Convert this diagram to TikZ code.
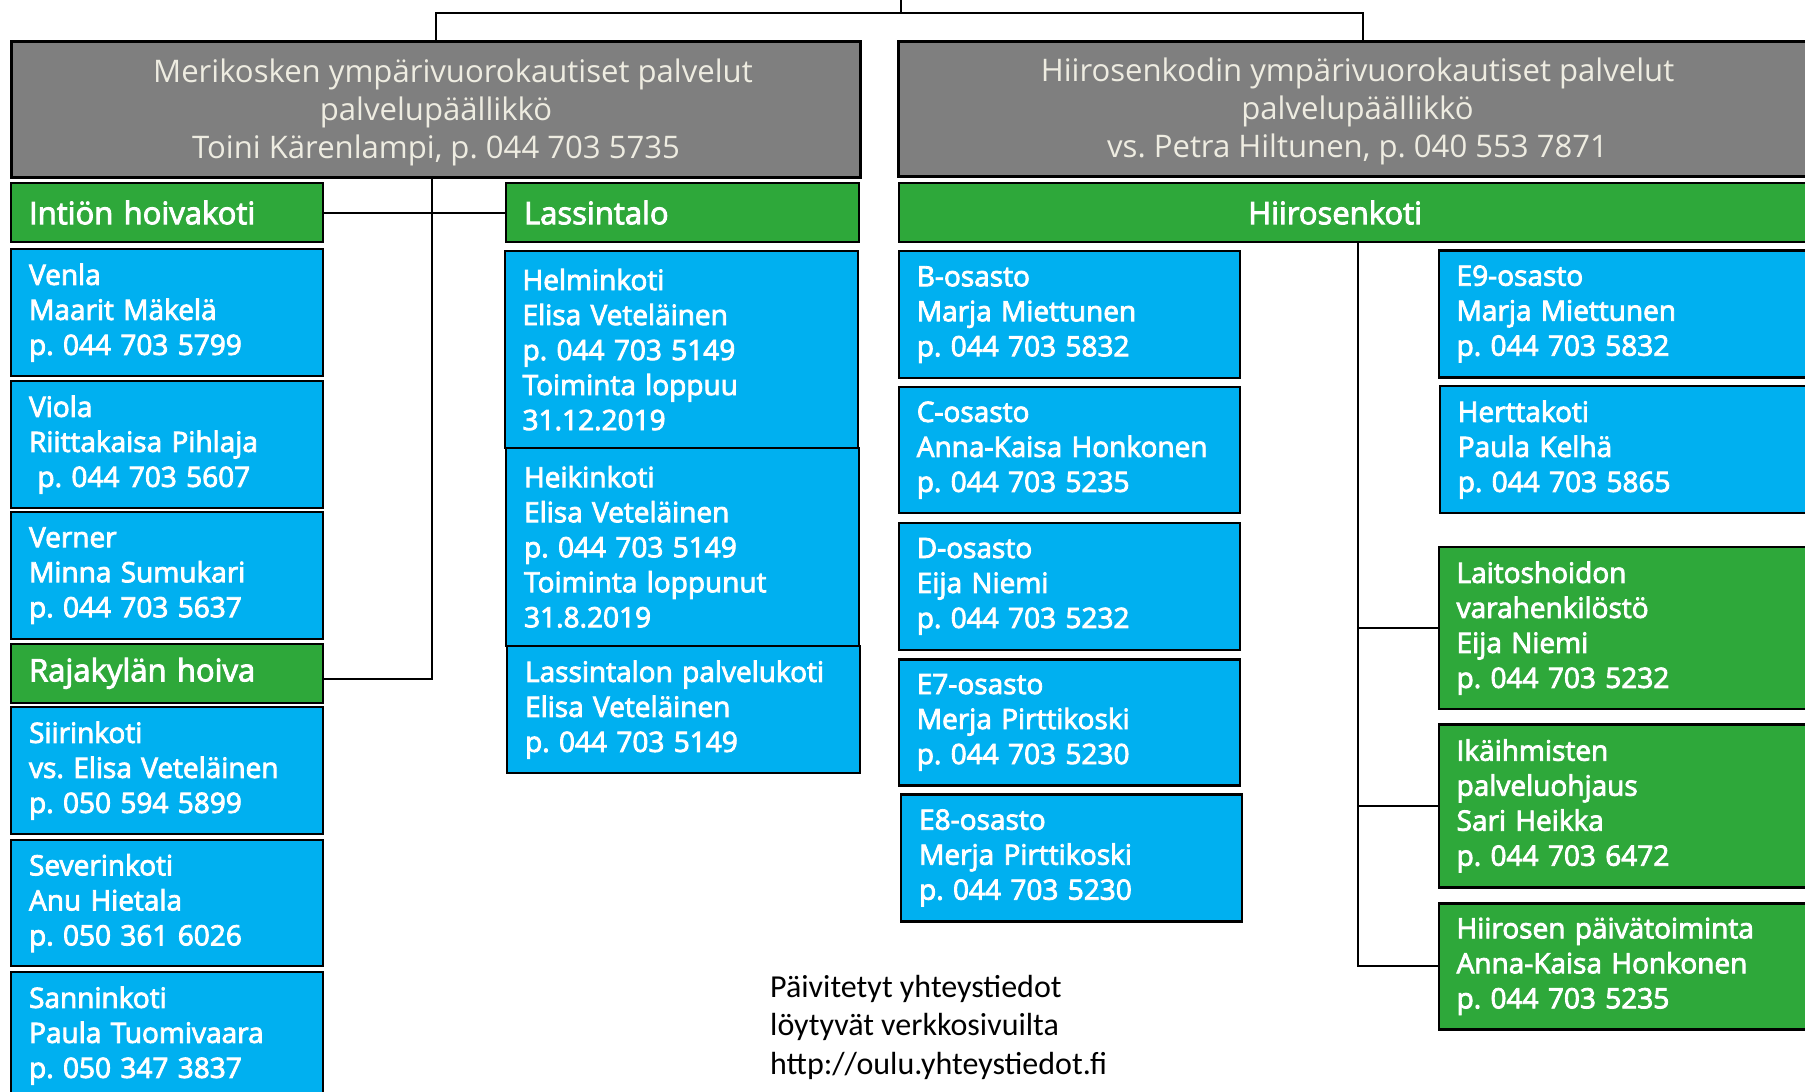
\documentclass[tikz,border=0pt]{standalone}
\usepackage{fontspec}
\setmainfont{Open Sans}
\newfontfamily\sbf{Open Sans}[FakeBold=3]
\newfontfamily\calib{Carlito}
\definecolor{gboxc}{HTML}{7F7F7F}
\definecolor{cyanc}{HTML}{00B0F0}
\definecolor{greenc}{HTML}{2EA83A}
\definecolor{creamc}{HTML}{EEECE1}
\frenchspacing
\begin{document}
\begin{tikzpicture}[x=1pt,y=-1pt,
  hdr/.style={draw=black, line width=3pt, fill=gboxc, text=creamc, align=center,
    font=\frenchspacing\fontsize{31.1}{38}\selectfont, inner sep=0pt, anchor=north west},
  bx/.style={draw=black, line width=2.2pt, text=white, align=left,
    font=\frenchspacing\sbf\fontsize{28}{35}\selectfont, inner xsep=18pt, inner ysep=0pt, anchor=north west},
  bluebox/.style={bx, fill=cyanc},
  greenbox/.style={bx, fill=greenc},
  unitbox/.style={greenbox, minimum height=59pt, font=\frenchspacing\sbf\fontsize{31}{35}\selectfont},
  lc/.style={minimum width=311.5pt, text width=275.5pt},
  mc/.style={minimum width=353pt, text width=317pt},
  hc/.style={minimum width=341pt, text width=305pt},
  rc/.style={minimum width=380pt, text width=344pt},
  conn/.style={draw=black, line width=2pt}]
\useasboundingbox[fill=white] (0,0) rectangle (1805,1092);

% headers
\node[hdr, minimum width=849pt, minimum height=136pt] (hdrL) at (10,40)
  {\rule{0pt}{29pt}\hspace*{34pt}Merikosken ympärivuorokautiset palvelut\\palvelupäällikkö\\Toini Kärenlampi, p. 044 703 5735};
\node[hdr, minimum width=919pt, minimum height=135pt] (hdrR) at (896.5,40)
  {\rule{0pt}{29pt}Hiirosenkodin ympärivuorokautiset palvelut\\palvelupäällikkö\\vs. Petra Hiltunen, p. 040 553 7871};

% green unit boxes
\node[unitbox, lc] (intion) at (10,182) {Intiön hoivakoti};
\node[unitbox, mc] (lassi) at (505,182) {Lassintalo};
\node[unitbox, minimum width=917pt, text width=881pt, align=center] (hiiro) at (898,182)
  {\hspace*{-45pt}Hiirosenkoti};

% left column
\node[bluebox, lc, minimum height=127pt] (venla) at (10,248) {Venla\\Maarit Mäkelä\\p. 044 703 5799};
\node[bluebox, lc, minimum height=127pt] (viola) at (10,380) {Viola\\Riittakaisa Pihlaja\\\hspace*{0.3em}p. 044 703 5607};
\node[bluebox, lc, minimum height=127pt] (verner) at (10,511) {Verner\\Minna Sumukari\\p. 044 703 5637};
\node[unitbox, lc] (raja) at (10,642.7) {Rajakylän hoiva};
\node[bluebox, lc, minimum height=127pt] (siiri) at (10,706) {Siirinkoti\\vs. Elisa Veteläinen\\p. 050 594 5899};
\node[bluebox, lc, minimum height=126pt] (severin) at (10,839) {Severinkoti\\Anu Hietala\\p. 050 361 6026};
\node[bluebox, lc, minimum height=127pt] (sannin) at (10,971) {Sanninkoti\\Paula Tuomivaara\\p. 050 347 3837};

% Lassintalo column
\node[bluebox, mc, minimum height=197pt] (helmi) at (503.5,250)
  {Helminkoti\\Elisa Veteläinen\\p. 044 703 5149\\Toiminta loppuu\\31.12.2019};
\node[bluebox, mc, minimum height=198pt] (heikki) at (505,446.7)
  {Heikinkoti\\Elisa Veteläinen\\p. 044 703 5149\\Toiminta loppunut\\31.8.2019};
\node[bluebox, mc, minimum height=127pt] (lpk) at (506,645)
  {Lassintalon palvelukoti\\Elisa Veteläinen\\p. 044 703 5149};

% Hiirosenkoti left column
\node[bluebox, hc, minimum height=127pt] (bos) at (897.7,250) {B-osasto\\Marja Miettunen\\p. 044 703 5832};
\node[bluebox, hc, minimum height=126pt] (cos) at (897.7,386) {C-osasto\\Anna-Kaisa Honkonen\\p. 044 703 5235};
\node[bluebox, hc, minimum height=127pt] (dos) at (897.7,521.7) {D-osasto\\Eija Niemi\\p. 044 703 5232};
\node[bluebox, hc, minimum height=126pt] (e7) at (897.7,658.3) {E7-osasto\\Merja Pirttikoski\\p. 044 703 5230};
\node[bluebox, hc, minimum height=127pt] (e8) at (900,793.3) {E8-osasto\\Merja Pirttikoski\\p. 044 703 5230};

% Hiirosenkoti right column
\node[bluebox, rc, minimum height=127pt] (e9) at (1437.5,249.3) {E9-osasto\\Marja Miettunen\\p. 044 703 5832};
\node[bluebox, rc, minimum height=127pt] (hertta) at (1438.7,385) {Herttakoti\\Paula Kelhä\\p. 044 703 5865};
\node[greenbox, rc, minimum height=162pt] (laitos) at (1437.5,546)
  {Laitoshoidon\\varahenkilöstö\\Eija Niemi\\p. 044 703 5232};
\node[greenbox, rc, minimum height=163pt] (ika) at (1437.5,723.3)
  {Ikäihmisten\\palveluohjaus\\Sari Heikka\\p. 044 703 6472};
\node[greenbox, rc, minimum height=126pt] (paiva) at (1437.5,902.3)
  {Hiirosen päivätoiminta\\Anna-Kaisa Honkonen\\p. 044 703 5235};

% footnote
\node[font=\frenchspacing\calib\fontsize{32}{38.5}\selectfont, align=left, anchor=north west, inner sep=0pt] (note) at (770,975)
  {Päivitetyt yhteystiedot\\löytyvät verkkosivuilta\\http://oulu.yhteystiedot.fi};

% connectors
\coordinate (topin) at (901,0);
\coordinate (jn) at (901,13.3);
\draw[conn] (topin) -- (jn);
\draw[conn] (hdrL.north) -- (hdrL.north |- jn) -- ([xshift=5pt]hdrR.north |- jn) -- ([xshift=5pt]hdrR.north);
\draw[conn] ([xshift=-4pt]hdrL.south) |- ([yshift=-6pt]raja.east);
\draw[conn] (intion.east) -- (lassi.west);
\draw[conn] (hiiro.south) |- (paiva.west);
\draw[conn] (hiiro.south |- laitos.west) -- (laitos.west);
\draw[conn] (hiiro.south |- ika.west) -- (ika.west);
\end{tikzpicture}
\end{document}
